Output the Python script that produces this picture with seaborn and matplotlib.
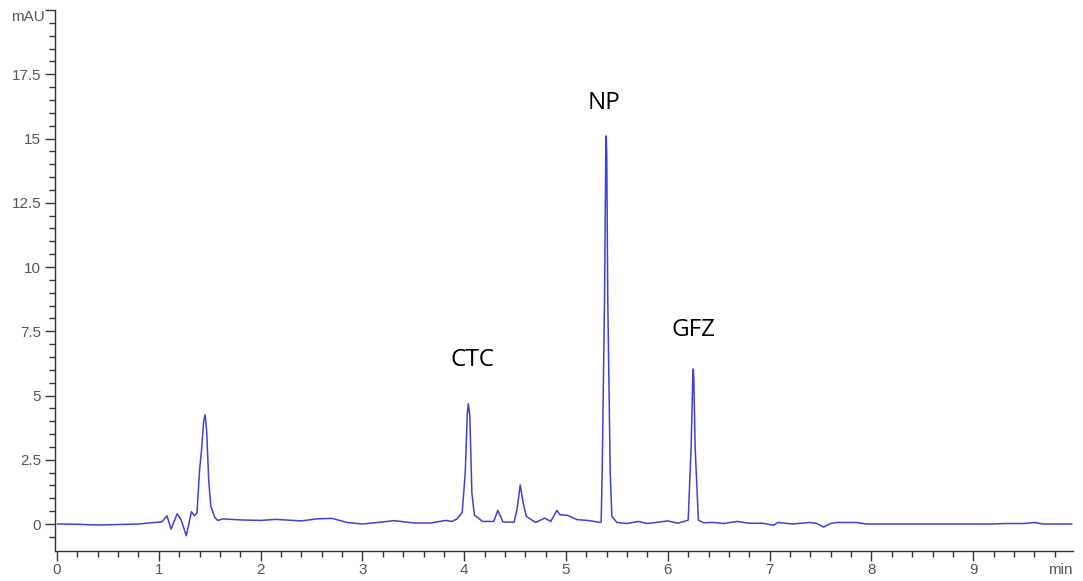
import matplotlib
matplotlib.use('Agg')
import matplotlib.pyplot as plt
import seaborn as sns
import pandas as pd
import numpy as np

# Chromatogram trace (time in min, signal in mAU)
time = [0.0, 0.2, 0.4, 0.6, 0.8, 0.95, 1.03, 1.08, 1.12, 1.18, 1.22, 1.27, 1.32, 1.35,
        1.375, 1.40, 1.42, 1.44, 1.455, 1.47, 1.49, 1.51, 1.55, 1.58, 1.63, 1.8, 2.0, 2.15,
        2.4, 2.55, 2.7, 2.85, 3.0, 3.15, 3.31, 3.51, 3.67, 3.82, 3.88, 3.93, 3.98, 4.01,
        4.03, 4.04, 4.055, 4.075, 4.1, 4.18, 4.29, 4.33, 4.38, 4.49, 4.52, 4.55, 4.58, 4.61,
        4.70, 4.79, 4.85, 4.91, 4.94, 5.01, 5.11, 5.21, 5.34, 5.345, 5.355, 5.378, 5.39, 5.395,
        5.40, 5.41, 5.434, 5.45, 5.5, 5.6, 5.71, 5.8, 6.0, 6.1, 6.2, 6.229, 6.245, 6.25, 6.255,
        6.268, 6.30, 6.35, 6.45, 6.55, 6.68, 6.8, 6.93, 7.04, 7.08, 7.23, 7.39, 7.46, 7.53, 7.6,
        7.66, 7.85, 7.95, 9.19, 9.32, 9.5, 9.6, 9.69, 9.97]
signal = [0.0, -0.01, -0.04, -0.02, 0.0, 0.06, 0.08, 0.32, -0.2, 0.4, 0.15, -0.46, 0.48, 0.32,
          0.44, 2.1, 2.9, 4.0, 4.25, 3.6, 1.7, 0.7, 0.25, 0.14, 0.2, 0.16, 0.14, 0.18,
          0.12, 0.2, 0.22, 0.06, 0.0, 0.06, 0.13, 0.04, 0.04, 0.14, 0.10, 0.2, 0.45, 2.0,
          4.3, 4.68, 4.2, 1.2, 0.35, 0.1, 0.1, 0.53, 0.08, 0.07, 0.6, 1.52, 0.8, 0.3,
          0.06, 0.23, 0.1, 0.53, 0.36, 0.34, 0.17, 0.14, 0.06, 0.1, 2.0, 8.7, 14.3, 15.1,
          14.3, 8.7, 2.0, 0.3, 0.06, 0.02, 0.1, 0.02, 0.12, 0.03, 0.15, 3.0, 5.7, 6.03, 5.7,
          3.0, 0.15, 0.05, 0.06, 0.02, 0.1, 0.03, 0.03, -0.05, 0.06, 0.0, 0.06, 0.03, -0.12, 0.02,
          0.06, 0.06, 0.0, 0.0, 0.02, 0.02, 0.06, 0.0, 0.0]

peak_names = ['CTC', 'NP', 'GFZ']
peak_label_x = [4.08, 5.37, 6.25]
peak_label_y = [6.37, 16.4, 7.56]

y_ticks = [0, 2.5, 5, 7.5, 10, 12.5, 15, 17.5, 20]
y_tick_labels = ['0', '2.5', '5', '7.5', '10', '12.5', '15', '17.5', '']
x_ticks = [0, 1, 2, 3, 4, 5, 6, 7, 8, 9]

df = pd.DataFrame({'time': time, 'signal': signal})

sns.set_style('ticks')
plt.rcParams['font.family'] = ['Liberation Sans', 'DejaVu Sans']

fig = plt.figure(figsize=(10.83, 5.81), dpi=100)
ax = fig.add_axes([55 / 1083, 1 - 551 / 581, (1073 - 55) / 1083, (551 - 10) / 581])

sns.lineplot(data=df, x='time', y='signal', ax=ax, color='#4040d4', linewidth=1.1)

ax.set_xlim(-0.02, 9.98)
ax.set_ylim(-1.05, 20)
ax.set_xlabel('')
ax.set_ylabel('')

ax.set_yticks(y_ticks)
ax.set_yticklabels(y_tick_labels)
ax.set_yticks(np.arange(-0.5, 20, 0.5), minor=True)
ax.set_xticks(x_ticks)
ax.set_xticks(np.arange(0, 9.9, 0.2), minor=True)

ax.tick_params(axis='both', which='major', length=7, width=1, colors='#333333',
               labelcolor='#555555', labelsize=11)
ax.tick_params(axis='both', which='minor', length=4, width=1, colors='#333333')
ax.tick_params(axis='y', which='major', pad=3)
ax.tick_params(axis='x', which='major', pad=2)

sns.despine(ax=ax)
for s in ['left', 'bottom']:
    ax.spines[s].set_color('#333333')
    ax.spines[s].set_linewidth(1)

ax.text(1.0, -0.022, 'min', transform=ax.transAxes, ha='right', va='top',
        fontsize=11, color='#555555')
ax.text(-0.0105, 0.987, 'mAU', transform=ax.transAxes, ha='right', va='center',
        fontsize=11, color='#555555')

for name, lx, ly in zip(peak_names, peak_label_x, peak_label_y):
    ax.text(lx, ly, name, ha='center', va='center', fontsize=17.5,
            family=['Open Sans', 'DejaVu Sans'], color='black')

fig.savefig('out.png', dpi=100)
